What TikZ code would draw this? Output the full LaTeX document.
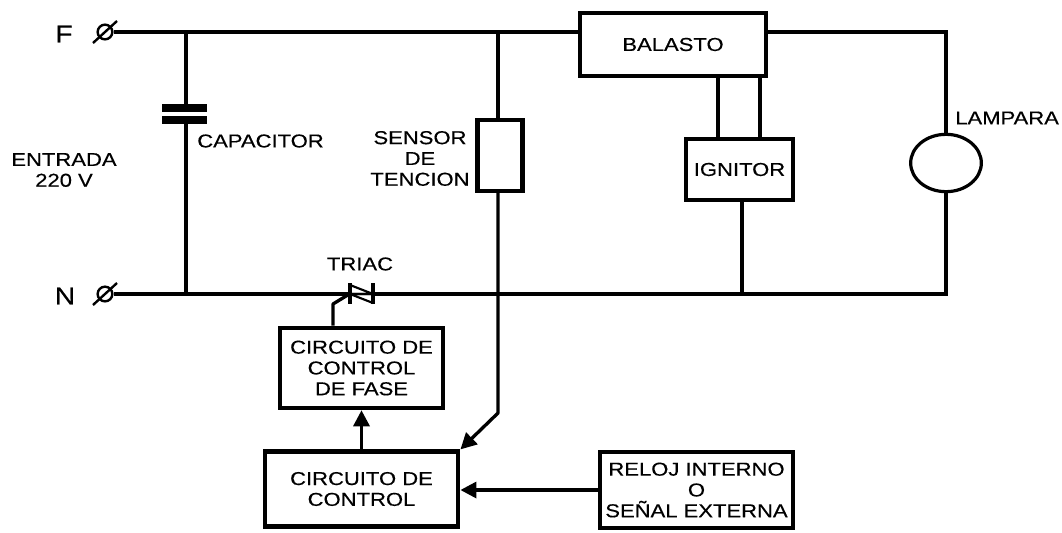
\documentclass[tikz,border=0pt]{standalone}
\usepackage{fontspec}
\setmainfont[FakeStretch=1.18, FakeBold=0.35]{Liberation Sans}
\usepackage{tikz}
\usetikzlibrary{shapes.geometric, positioning, arrows.meta}

\begin{document}
\begin{tikzpicture}[
    x=0.75pt, y=-0.75pt,
    wire/.style={line width=2.5pt},
    wireb/.style={line width=2.3pt},
    flow/.style={line width=2.5pt, -{Triangle[length=12pt, width=12pt]}},
    box/.style={draw, line width=3.4pt, inner sep=0pt, align=center},
    lbl/.style={font=\fontsize{14}{15.6}\selectfont, align=center, inner sep=0pt},
    biglbl/.style={font=\fontsize{18}{20}\selectfont, inner sep=0pt},
    term/.style={circle, draw, line width=1.8pt, minimum size=11pt, inner sep=0pt},
    plate/.style={line width=5.6pt}
  ]
  \useasboundingbox (0,0) rectangle (1062,532);

  % input side
  \node[term] (termF) at (105,32) {};
  \node[term] (termN) at (105,294) {};
  \draw[line width=1.8pt] (93,43) -- (117,21);
  \draw[line width=1.8pt] (93,305) -- (117,283);
  \node[biglbl] (labF) at (64,34) {F};
  \node[biglbl] (labN) at (65,296) {N};
  \node[lbl] (entrada) at (64,170) {ENTRADA\\220 V};

  % boxes
  \node[box, minimum width=139.5pt, minimum height=47pt, lbl] (balasto) at (673,44.5) {BALASTO};
  \node[box, minimum width=80pt, minimum height=46pt, lbl] (ignitor) at (739.5,169.5) {IGNITOR};
  \node[box, minimum width=34pt, minimum height=53pt] (sensor) at (500,155.5) {};
  \node[box, minimum width=122pt, minimum height=60pt, lbl] (fase) at (361.5,368) {CIRCUITO DE\\CONTROL\\DE FASE};
  \node[box, minimum width=145pt, minimum height=56pt, lbl] (control) at (361.5,489) {CIRCUITO DE\\CONTROL};
  \node[box, minimum width=145pt, minimum height=57pt, lbl] (reloj) at (696.5,490) {RELOJ INTERNO\\O\\SEÑAL EXTERNA};
  \node[ellipse, draw, line width=2.4pt, minimum width=53pt, minimum height=43pt, inner sep=0pt] (lampara) at (946,163) {};

  % labels
  \node[lbl] (capacitor) at (260.5,141) {CAPACITOR};
  \node[lbl] (tencion) at (420,158.5) {SENSOR\\DE\\TENCION};
  \node[lbl] (triac) at (360,264) {TRIAC};
  \node[lbl, anchor=west] (lamp) at (955,118) {LAMPARA};

  % capacitor
  \coordinate (capT) at (186,108);
  \coordinate (capB) at (186,120);
  \draw[plate] (162,108) -- (207,108);
  \draw[plate] (162,120) -- (207,120);
  \draw[wire] (capT) -- (capT |- termF);
  \draw[wire] (capB) -- (capB |- termN);

  % triac
  \coordinate (triacL) at (350,294);
  \coordinate (triacR) at (373,294);
  \draw[line width=2.4pt] (350,283) -- (350,304);
  \draw[line width=2.4pt] (373,283) -- (373,304);
  \draw[line width=1.6pt] (350,285) -- (373,294) -- (350,294);
  \draw[line width=1.6pt] (373,303) -- (350,294) -- (373,294);
  \coordinate (gateA) at (333,304);
  \draw[wire, line join=round] (gateA |- fase.north) -- (gateA) -- (351,293);

  % wires
  \draw[wire] (termF.east) -- (termF.east -| balasto.west);
  \draw[wire] (termN.east) -- (triacL);
  \coordinate (cornerT) at (946,32);
  \coordinate (cornerB) at (946,294);
  \draw[wireb] (cornerT -| balasto.east) -- (cornerT) -- (lampara.north);
  \draw[wireb] (lampara.south) -- (cornerB) -- (cornerB -| ignitor.south);
  \draw[wire] (cornerB -| ignitor.south) -- (triacR);
  \coordinate (ignA) at (718,137);
  \coordinate (ignB) at (760,137);
  \draw[wireb] (ignA |- balasto.south) -- (ignA);
  \draw[wireb] (ignB |- balasto.south) -- (ignB);
  \coordinate (ignC) at (742,294);
  \draw[wire] (ignC |- ignitor.south) -- (ignC);

  % sensor and control
  \coordinate (sensB) at (498,413);
  \draw[wireb] (sensB |- termF) -- (sensB |- sensor.north);
  \draw[flow, line join=round] (sensB |- sensor.south) -- (sensB) -- (control.north east);
  \draw[flow] (control.north -| fase.south) -- (fase.south);
  \draw[flow] (reloj.west) -- (reloj.west -| control.east);
\end{tikzpicture}
\end{document}
